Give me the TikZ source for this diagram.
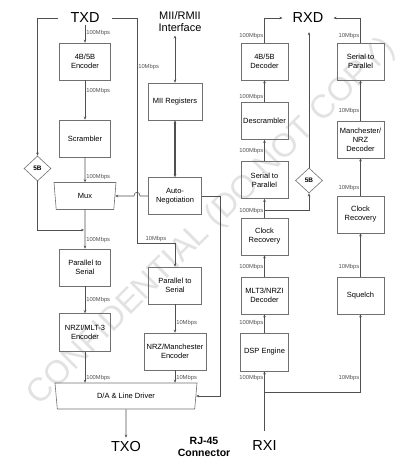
\documentclass[tikz,border=0pt]{standalone}
\usepackage{fontspec}
\setmainfont{Liberation Sans}
\usetikzlibrary{shapes.geometric, arrows.meta, calc, positioning}
\definecolor{phyline}{HTML}{505050}
\definecolor{phybox}{HTML}{707070}
\definecolor{wmark}{HTML}{E2E2E2}
\tikzset{
  % blocco funzionale
  blk/.style={draw=phybox, line width=0.6pt, minimum width=51pt, minimum height=37pt,
    align=center, inner sep=1pt, font=\fontsize{7.5}{9}\selectfont},
  rxblk/.style={blk, minimum width=47pt},
  % multiplexer / driver
  trap/.style={draw=phybox, line width=0.6pt, trapezium, trapezium stretches body,
    trapezium left angle=107, trapezium right angle=107, inner sep=1pt,
    font=\fontsize{7.5}{9}\selectfont},
  % selettore 5B
  sel/.style={draw=phybox, line width=0.6pt, diamond, minimum width=27pt, minimum height=25pt,
    inner sep=0pt, font=\bfseries\fontsize{6.5}{7}\selectfont},
  % segnali
  sig/.style={font=\fontsize{14.5}{16}\selectfont, inner ysep=2pt, inner xsep=12pt},
  % collegamenti
  conn/.style={-{Stealth[length=3pt, width=2.6pt]}, line width=0.55pt, phyline},
  dbl/.style={{Stealth[length=3pt, width=2.6pt]}-{Stealth[length=3pt, width=2.6pt]},
    line width=0.55pt, phyline},
  % etichette di velocita
  rate/.style={font=\fontsize{5.8}{6.5}\selectfont, inner sep=1pt},
  watermark/.style={wmark, rotate=45, font=\fontsize{33}{36}\selectfont},
}

\begin{document}
\begin{tikzpicture}[x=1pt, y=-1pt]
  \useasboundingbox (0,0) rectangle (417,470);
  \node[watermark] (wm) at (212,222) {CONFIDENTIAL (DO NOT COPY)};

  % trasmissione
  \node[sig] (txd) at (85,18) {TXD};
  \node[blk] (enc) at (85,61.5) {4B/5B\\Encoder};
  \node[blk] (scr) at (85,138.5) {Scrambler};
  \node[trap, minimum width=62pt, minimum height=27pt] (mux) at (85,196) {Mux};
  \node[blk] (ptsa) at (85,267.5) {Parallel to\\Serial};
  \node[blk, minimum height=38pt] (nrzi) at (85,332.5) {NRZI/MLT-3\\Encoder};
  \node[sel] (seltx) at (37.5,168.5) {5B};
  \node[trap, minimum width=142pt, minimum height=26pt] (dal) at (126,396) {D/A \& Line Driver};
  \node[sig, inner ysep=4pt] (txo) at (126,447) {TXO};

  \node[font=\fontsize{11}{12}\selectfont, align=center] (mif) at (180,22) {MII/RMII\\Interface};
  \node[blk, minimum width=54pt] (mii) at (175,101.5) {MII Registers};
  \node[blk, minimum width=53pt] (auto) at (175,196) {Auto-\\Negotiation};
  \node[blk, minimum width=53pt] (ptsb) at (175,285.5) {Parallel to\\Serial};
  \node[blk, minimum width=62pt] (nrz) at (175,351.5) {NRZ/Manchester\\Encoder};
  \node[font=\bfseries\fontsize{10.5}{12}\selectfont, align=center] (rj) at (204,447) {RJ-45\\Connector};

  % ricezione
  \node[sig, inner xsep=10pt, inner ysep=9pt] (rxd) at (308,18) {RXD};
  \node[rxblk] (dec) at (264.5,61.5) {4B/5B\\Decoder};
  \node[rxblk] (dscr) at (264.5,121) {Descrambler};
  \node[rxblk] (stpa) at (264.5,180) {Serial to\\Parallel};
  \node[rxblk] (clka) at (264.5,236.5) {Clock\\Recovery};
  \node[rxblk] (mlt) at (264.5,295.5) {MLT3/NRZI\\Decoder};
  \node[rxblk, minimum width=48pt, minimum height=38pt] (dsp) at (264.5,352) {DSP Engine};
  \node[sel] (selrx) at (309,180.5) {5B};
  \node[sig, inner ysep=10pt] (rxi) at (264.5,446) {RXI};

  \node[rxblk] (stpb) at (360.5,61.5) {Serial to\\Parallel};
  \node[rxblk] (man) at (360.5,139.5) {Manchester/\\NRZ\\Decoder};
  \node[rxblk] (clkb) at (360.5,214.5) {Clock\\Recovery};
  \node[rxblk] (sq) at (360.5,295.5) {Squelch};

  \coordinate (merge) at (85,230);
  \coordinate (bend) at (137,243);
  \coordinate (hop) at (137,196);
  \coordinate (split) at (264.5,392);
  \coordinate (tap) at (264.5,210);

  % percorso 100 Mbps in trasmissione
  \draw[conn] (txd.south) -- node[rate, right, pos=0.43] (ta) {100Mbps} (enc.north);
  \draw[conn] (enc.south) -- node[rate, right, pos=0.26] (tb) {100Mbps} (scr.north);
  \draw[conn] (scr.south) -- node[rate, right, pos=0.8] (tc) {100Mbps} (mux.north);
  \draw[conn] (mux.south) -- node[rate, right, pos=0.77] (td) {100Mbps} (ptsa.north);
  \draw[conn] (ptsa.south) -- node[rate, right, pos=0.52] (te) {100Mbps} (nrzi.north);
  \draw[conn] (nrzi.south) -- node[rate, right, pos=0.84] (tf) {100Mbps} (nrzi.south |- dal.north);
  \draw[conn] (txd.west) -| (seltx.north);
  \draw[conn, shorten >=1pt] (seltx.south) |- (merge);
  \draw[conn] (dal.south) -- (txo.north);

  % percorso 10 Mbps in trasmissione
  \draw[conn] (txd.east) -| node[rate, right, pos=0.61] (tg) {10Mbps} (bend)
    -| node[rate, above, pos=0.25] (th) {10Mbps} (ptsb.north);
  \draw[conn] (ptsb.south) -- node[rate, right, pos=0.65] (ti) {10Mbps} (nrz.north);
  \draw[conn] (nrz.south) -- node[rate, right, pos=0.6] (tj) {10Mbps} (nrz.south |- dal.north);

  % gestione
  \draw[dbl] (mii.north |- mif.south) -- (mii.north);
  \draw[dbl, line width=1.1pt] (mii.south) -- (auto.north);
  \draw[conn] (auto.west) -- ([xshift=3pt]hop)
    .. controls ([xshift=3pt, yshift=5pt]hop) and ([xshift=-3pt, yshift=5pt]hop) .. ([xshift=-3pt]hop)
    -- (mux.east);
  \draw[conn] (auto.east) -- ++(18,0) |- (dal.east);

  % percorso 100 Mbps in ricezione
  \draw[conn] (rxi.north) -- node[rate, left, pos=0.88] (ra) {100Mbps} (dsp.south);
  \draw[conn] (dsp.north) -- node[rate, left, pos=0.53] (rb) {100Mbps} (mlt.south);
  \draw[conn] (mlt.north) -- node[rate, left, pos=0.45] (rc) {100Mbps} (clka.south);
  \draw[conn] (clka.north) -- node[rate, left, pos=0.35] (rd) {100Mbps} (stpa.south);
  \draw[conn] (stpa.north) -- node[rate, left, pos=0.48] (re) {100Mbps} (dscr.south);
  \draw[conn] (dscr.north) -- node[rate, left, pos=0.22] (rf) {100Mbps} (dec.south);
  \draw[conn] (dec.north) |- node[rate, left, pos=0.14] (rg) {100Mbps} (rxd.west);
  \draw[conn] (tap) -| (selrx.south);
  \draw[conn] (selrx.north) -- (selrx.north |- rxd.south);

  % percorso 10 Mbps in ricezione
  \draw[conn] (split) -| node[rate, left, pos=0.59] (rh) {10Mbps} (sq.south);
  \draw[conn] (sq.north) -- node[rate, left, pos=0.23] (ri) {10Mbps} (clkb.south);
  \draw[conn] (clkb.north) -- node[rate, left, pos=0.2] (rj) {10Mbps} (man.south);
  \draw[conn] (man.north) -- node[rate, left, pos=0.24] (rk) {10Mbps} (stpb.south);
  \draw[conn] (stpb.north) |- node[rate, left, pos=0.14] (rl) {10Mbps} (rxd.east);
\end{tikzpicture}
\end{document}
